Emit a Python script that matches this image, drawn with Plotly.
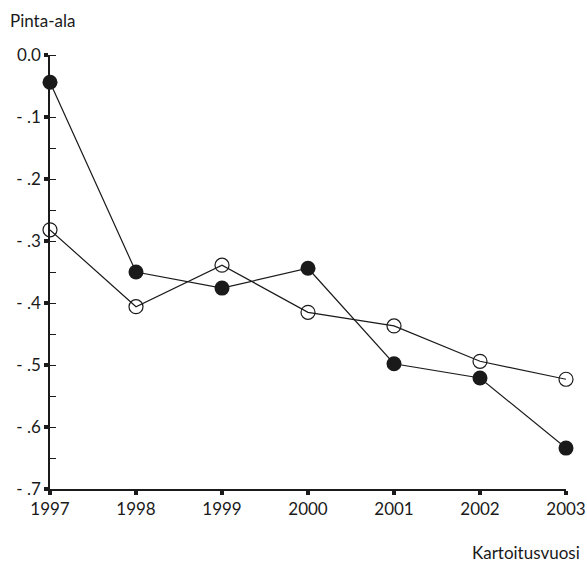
import plotly.graph_objects as go

years = [1997, 1998, 1999, 2000, 2001, 2002, 2003]
filled_vals = [-0.044, -0.350, -0.376, -0.344, -0.498, -0.521, -0.634]
open_vals = [-0.282, -0.406, -0.339, -0.415, -0.437, -0.494, -0.523]

y_tickvals = [0.0, -0.1, -0.2, -0.3, -0.4, -0.5, -0.6, -0.7]
y_ticktext = ["0.0", "- .1", "- .2", "- .3", "- .4", "- .5", "- .6", "- .7"]

INK = "#1a1a1a"
FONT = "Lato"

fig = go.Figure()

fig.add_trace(go.Scatter(
    x=years, y=open_vals, mode="lines+markers",
    line=dict(color=INK, width=1.2),
    marker=dict(symbol="circle-open", size=14, color=INK, line=dict(width=1.2)),
    cliponaxis=False, showlegend=False,
))
fig.add_trace(go.Scatter(
    x=years, y=filled_vals, mode="lines+markers",
    line=dict(color=INK, width=1.2),
    marker=dict(symbol="circle", size=15, color=INK),
    cliponaxis=False, showlegend=False,
))

fig.update_layout(
    width=587, height=567,
    margin=dict(l=50, r=21, t=55, b=78),
    plot_bgcolor="white", paper_bgcolor="white",
    font=dict(family=FONT, size=17, color=INK),
    xaxis=dict(
        range=[1997, 2003], tickvals=years, ticktext=[str(y) for y in years],
        showgrid=False, zeroline=False, showline=True, linecolor=INK, linewidth=1.5,
        ticks="outside", ticklen=4, tickwidth=4, tickcolor=INK,
        tickfont=dict(size=17), automargin=False,
    ),
    yaxis=dict(
        range=[-0.7, 0.0], tickvals=y_tickvals, ticktext=y_ticktext,
        showgrid=False, zeroline=False, showline=True, linecolor=INK, linewidth=1.5,
        ticks="outside", ticklen=4, tickwidth=4, tickcolor=INK,
        tickfont=dict(size=17), automargin=False,
        minor=dict(dtick=0.05, tick0=0, ticks="inside", ticklen=6, tickwidth=1, tickcolor=INK),
    ),
    annotations=[
        dict(text="Pinta-ala", xref="paper", yref="paper", x=-42 / 516, y=1 + 35 / 434,
             xanchor="left", yanchor="middle", showarrow=False, font=dict(size=17)),
        dict(text="Kartoitusvuosi", xref="paper", yref="paper", x=1 + 16 / 516, y=-63 / 434,
             xanchor="right", yanchor="middle", showarrow=False, font=dict(size=17)),
    ],
)

# drop the default 8px body margin so the figure fills the window
fig.write_html("out.html", config={"displayModeBar": False},
               post_script="document.body.style.margin = '0px';")
